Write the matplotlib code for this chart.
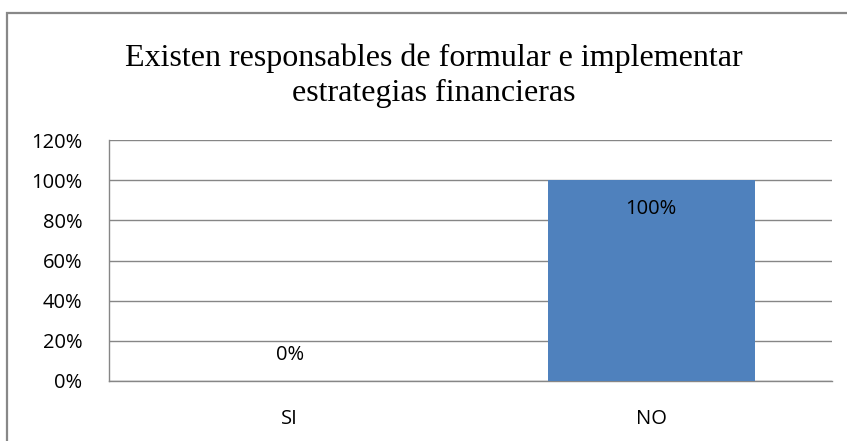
import matplotlib
matplotlib.use("Agg")
import matplotlib.pyplot as plt
from matplotlib.patches import Rectangle
from matplotlib.ticker import PercentFormatter

CATEGORIES = ["SI", "NO"]
VALUES = [0.0, 1.0]
LABELS = ["0%", "100%"]
YTICKS = [0, 0.2, 0.4, 0.6, 0.8, 1.0, 1.2]

TITLE = "Existen responsables de formular e implementar\nestrategias financieras"
BLUE = "#4F81BD"
GRID = "#868686"
SANS = ["Open Sans", "DejaVu Sans"]
FS = 14.5

W, H = 847, 441
fig = plt.figure(figsize=(W / 100, H / 100), dpi=100)
fig.patch.set_facecolor("white")

# outer chart border (runs off the right and bottom edges, like the source)
fig.add_artist(Rectangle((7 / W, -0.05), 1.0, (H - 13) / H + 0.05,
                         transform=fig.transFigure, fill=False,
                         edgecolor="#888888", lw=1.6))

ax = fig.add_axes([109 / W, (H - 381) / H, (832 - 109) / W, (381 - 140) / H])
x = range(len(CATEGORIES))
ax.bar(x, VALUES, width=0.573, color=BLUE, zorder=3)
ax.set_xlim(-0.5, 1.5)
ax.set_ylim(0, 1.2)
ax.set_yticks(YTICKS)
ax.yaxis.set_major_formatter(PercentFormatter(1.0, decimals=0))
ax.set_xticks(list(x))
ax.set_xticklabels(CATEGORIES)
ax.tick_params(axis="both", length=0, labelsize=FS, colors="black")
ax.tick_params(axis="y", pad=19)
ax.tick_params(axis="x", pad=20)
for lbl in ax.get_xticklabels() + ax.get_yticklabels():
    lbl.set_family(SANS)
ax.grid(axis="y", color=GRID, lw=1, zorder=0)
for side in ("top", "right"):
    ax.spines[side].set_visible(False)
for side in ("left", "bottom"):
    ax.spines[side].set_color(GRID)
    ax.spines[side].set_linewidth(1)

for xi, v, t in zip(x, VALUES, LABELS):
    if v > 0.5:
        ax.text(xi, v - 0.145, t, ha="center", va="center", fontsize=FS,
                family=SANS, zorder=4)
    else:
        ax.text(xi, v + 0.13, t, ha="center", va="center", fontsize=FS,
                family=SANS, zorder=4)

fig.text(434 / W, 1 - 76 / H, TITLE, ha="center", va="center",
         fontsize=23, family=["Liberation Serif"], linespacing=1.25)

fig.savefig("out.png", dpi=100)
